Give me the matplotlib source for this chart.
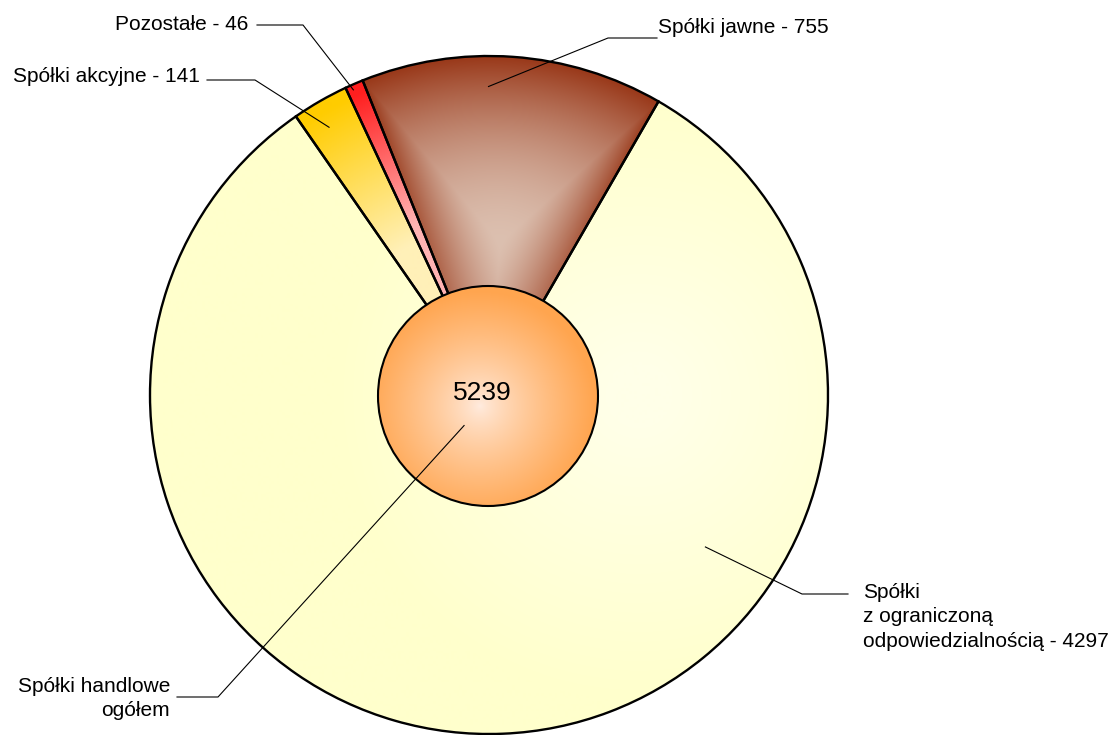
import numpy as np
import matplotlib
matplotlib.use('Agg')
import matplotlib.pyplot as plt
from matplotlib.patches import Circle
from matplotlib.colors import to_rgb

plt.rcParams['font.family'] = ['Liberation Sans', 'DejaVu Sans']

# data (order = counter-clockwise from start angle)
names = ['Spółki jawne', 'Pozostałe', 'Spółki akcyjne',
         'Spółki\nz ograniczoną\nodpowiedzialnością']
values = [755, 46, 141, 4297]
total_name = 'Spółki handlowe\nogółem'

# colours: outer colour, inner colour
edge_cols = ['#993819', '#ff1f1f', '#ffcc00', '#ffffcc']
inner_cols = ['#dcc0b0', '#ffb3b3', '#fff0b8', '#ffffe8']

W, H = 1117, 735
cx, cy, R = 489, H - 395, 339

fig = plt.figure(figsize=(W / 100, H / 100), dpi=100)
ax = fig.add_axes([0, 0, 1, 1])

wedges, _ = ax.pie(values, startangle=60, counterclock=True, radius=R,
                   center=(cx, cy), colors=edge_cols,
                   wedgeprops=dict(linewidth=1.7, edgecolor='black'))


def path_gradient(wedge, c_out, c_in, rc, gamma=1.0):
    # shape following gradient: from a point on the wedge's mid line to its outline
    t = np.radians(np.linspace(wedge.theta1, wedge.theta2, 120))
    px = np.r_[cx, cx + R * np.cos(t)]
    py = np.r_[cy, cy + R * np.sin(t)]
    mid = np.radians((wedge.theta1 + wedge.theta2) / 2)
    ccx, ccy = cx + rc * R * np.cos(mid), cy + rc * R * np.sin(mid)
    x0, x1, y0, y1 = px.min(), px.max(), py.min(), py.max()
    X, Y = np.meshgrid(np.arange(x0, x1 + 1), np.arange(y0, y1 + 1))
    s = np.zeros_like(X)
    for i in range(len(px)):
        j = (i + 1) % len(px)
        dx, dy = px[j] - px[i], py[j] - py[i]
        nx, ny = dy, -dx
        h = nx * (px[i] - ccx) + ny * (py[i] - ccy)
        if h <= 1e-9:
            continue
        s = np.maximum(s, (nx * (X - ccx) + ny * (Y - ccy)) / h)
    s = np.clip(s, 0, 1) ** gamma
    # edges get paler towards the middle of the pie
    s = s * (0.45 + 0.55 * np.clip(np.hypot(X - cx, Y - cy) / R, 0, 1))
    co, ci = np.array(to_rgb(c_out)), np.array(to_rgb(c_in))
    img = ci + (co - ci) * s[..., None]
    im = ax.imshow(img, extent=[x0, x1, y0, y1], origin='lower',
                   interpolation='bilinear', zorder=2)
    im.set_clip_path(wedge)


def radial_gradient(patch, c_out, c_in, r0, r1, fx, fy, bbox, gamma=1.0):
    x0, x1, y0, y1 = bbox
    X, Y = np.meshgrid(np.arange(x0, x1 + 1), np.arange(y0, y1 + 1))
    d = np.hypot(X - fx, Y - fy)
    s = np.clip((d - r0) / (r1 - r0), 0, 1) ** gamma
    co, ci = np.array(to_rgb(c_out)), np.array(to_rgb(c_in))
    img = ci + (co - ci) * s[..., None]
    im = ax.imshow(img, extent=[x0, x1, y0, y1], origin='lower',
                   interpolation='bilinear', zorder=2)
    im.set_clip_path(patch)


full_box = (cx - R, cx + R, cy - R, cy + R)
path_gradient(wedges[0], edge_cols[0], inner_cols[0], 0.45, 1.5)
radial_gradient(wedges[1], edge_cols[1], inner_cols[1], 0.55 * R, 0.97 * R, cx, cy, full_box)
radial_gradient(wedges[2], edge_cols[2], inner_cols[2], 0.5 * R, 0.97 * R, cx, cy, full_box)
radial_gradient(wedges[3], edge_cols[3], inner_cols[3], 0.1 * R, 0.9 * R, cx + 150, cy, full_box)

for w in wedges:
    w.set_facecolor('none')
    w.set_zorder(3)

# centre circle with total
ccx, ccy, cr = 488, H - 396, 110
circ = Circle((ccx, ccy), cr, facecolor='none', edgecolor='black', lw=1.5, zorder=5)
ax.add_patch(circ)
radial_gradient(circ, '#ffa54f', '#ffece0', 0, cr * 1.05, ccx - 8, ccy - 10,
                (ccx - cr, ccx + cr, ccy - cr, ccy + cr), 0.8)
ax.images[-1].set_zorder(4)
ax.text(482, H - 393, str(sum(values)), fontsize=19, ha='center', va='center', zorder=6)

# labels: text position (last baseline), alignment, leader elbow, anchor on the wedge
label_xy = [(658, 33), (248, 30), (200, 82), (863, 647)]
label_ha = ['left', 'right', 'right', 'left']
line_start = [(657, 38), (257, 25), (207, 80), (848, 594)]
line_elbow = [(608, 38), (303, 25), (255, 80), (802, 594)]
anchor_frac = [0.58, 0.66, 0.6, 0.678]
anchor_rad = [0.91, 0.985, 0.92, 0.78]

for i, w in enumerate(wedges):
    ang = np.radians(w.theta1 + anchor_frac[i] * (w.theta2 - w.theta1))
    ax_, ay_ = cx + anchor_rad[i] * R * np.cos(ang), cy + anchor_rad[i] * R * np.sin(ang)
    xs = [line_start[i][0], line_elbow[i][0], ax_]
    ys = [H - line_start[i][1], H - line_elbow[i][1], ay_]
    ax.plot(xs, ys, color='black', lw=0.8, zorder=7)
    ax.text(label_xy[i][0], H - label_xy[i][1], f'{names[i]} - {values[i]}',
            fontsize=15, ha=label_ha[i], va='baseline', multialignment='left',
            linespacing=1.38, zorder=7)

# total label
ang = np.radians(231)
ax.plot([177, 218, ccx + 38 * np.cos(ang)], [H - 697, H - 697, ccy + 38 * np.sin(ang)],
        color='black', lw=0.8, zorder=7)
ax.text(170, H - 716, total_name, fontsize=15, ha='right', va='baseline',
        multialignment='right', linespacing=1.31, zorder=7)

ax.set_xlim(0, W)
ax.set_ylim(0, H)
ax.set_aspect('auto')
ax.axis('off')
fig.savefig('out.png', dpi=100, facecolor='white')
